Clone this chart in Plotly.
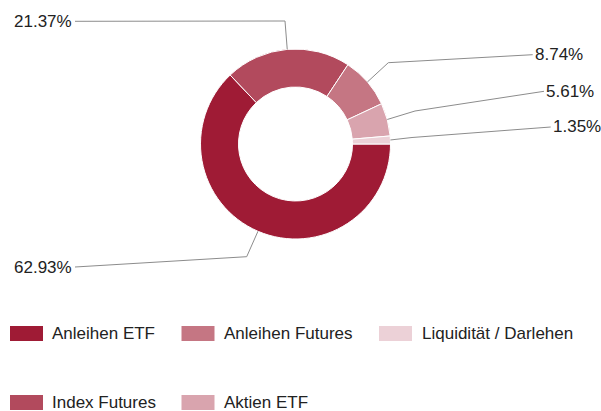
import math
import plotly.graph_objects as go

# ---- data ----
labels = ["Anleihen ETF", "Index Futures", "Anleihen Futures", "Aktien ETF", "Liquidität / Darlehen"]
values = [62.93, 21.37, 8.74, 5.61, 1.35]
colors = ["#9F1B35", "#B24A5D", "#C57683", "#D9A4AE", "#ECD1D7"]

# ---- layout constants (pixels) ----
W, H = 601, 411
CX, CY, R = 295.5, 144.0, 95.0
HOLE = 0.6
FONT = "Arial, Liberation Sans, sans-serif"
TEXT_COLOR = "#222222"
LINE_COLOR = "#8c8c8c"

# connector elbow and label anchor for each slice (pixels), label side
label_layout = [
    dict(elbow=(246.7, 256.7), end=(75.0, 267.0), side="left"),
    dict(elbow=(285.0, 21.0), end=(75.0, 21.3), side="left"),
    dict(elbow=(388.3, 62.7), end=(532.7, 54.7), side="right"),
    dict(elbow=(415.0, 111.0), end=(544.0, 91.3), side="right"),
    dict(elbow=(412.0, 137.5), end=(550.7, 127.0), side="right"),
]
legend_cols_sym = [10.0, 181.5, 379.0]
legend_cols_txt = [51.0, 222.5, 420.5]
legend_rows = [333.5, 402.5]
SYM_W, SYM_H = 33, 15


def px(x):
    return x / W


def py(y):
    return 1 - y / H


fig = go.Figure()
fig.add_trace(go.Pie(
    labels=labels,
    values=values,
    hole=HOLE,
    sort=False,
    direction="clockwise",
    rotation=90,
    marker=dict(colors=colors, line=dict(color="#ffffff", width=1)),
    textinfo="none",
    showlegend=False,
    domain=dict(x=[px(CX - R), px(CX + R)], y=[py(CY + R), py(CY - R)]),
))

shapes = []
annotations = []
total = sum(values)
cum = 0.0
for i, v in enumerate(values):
    mid = 90 + 360 * (cum + v / 2) / total
    cum += v
    t = math.radians(mid)
    sx, sy = CX + R * math.sin(t), CY - R * math.cos(t)
    lay = label_layout[i]
    ex, ey = lay["elbow"]
    tx, ty = lay["end"]
    shapes.append(dict(
        type="path", xref="paper", yref="paper",
        path=f"M{px(sx)},{py(sy)} L{px(ex)},{py(ey)} L{px(tx)},{py(ty)}",
        line=dict(color=LINE_COLOR, width=1),
    ))
    left = lay["side"] == "left"
    annotations.append(dict(
        x=px(tx - 2 if left else tx + 1), y=py(ty), xref="paper", yref="paper",
        text=f"{v:.2f}%", showarrow=False,
        xanchor="right" if left else "left", yanchor="middle",
        borderpad=0,
        font=dict(family=FONT, size=17, color=TEXT_COLOR),
    ))

    # legend entry
    col, row = i // 2, i % 2
    y0 = legend_rows[row]
    shapes.append(dict(
        type="rect", xref="paper", yref="paper",
        x0=px(legend_cols_sym[col]), x1=px(legend_cols_sym[col] + SYM_W),
        y0=py(y0 - SYM_H / 2), y1=py(y0 + SYM_H / 2),
        fillcolor=colors[i], line=dict(width=0),
    ))
    annotations.append(dict(
        x=px(legend_cols_txt[col]), y=py(y0), xref="paper", yref="paper",
        text=labels[i], showarrow=False, xanchor="left", yanchor="middle",
        borderpad=0,
        font=dict(family=FONT, size=17, color=TEXT_COLOR),
    ))

fig.update_layout(
    width=W, height=H,
    margin=dict(l=0, r=0, t=0, b=0),
    paper_bgcolor="#ffffff",
    plot_bgcolor="#ffffff",
    shapes=shapes,
    annotations=annotations,
    showlegend=False,
)

fig.write_html(
    "out.html",
    config={"displayModeBar": False},
    post_script="document.body.style.margin='0';document.body.style.overflow='hidden';",
)
